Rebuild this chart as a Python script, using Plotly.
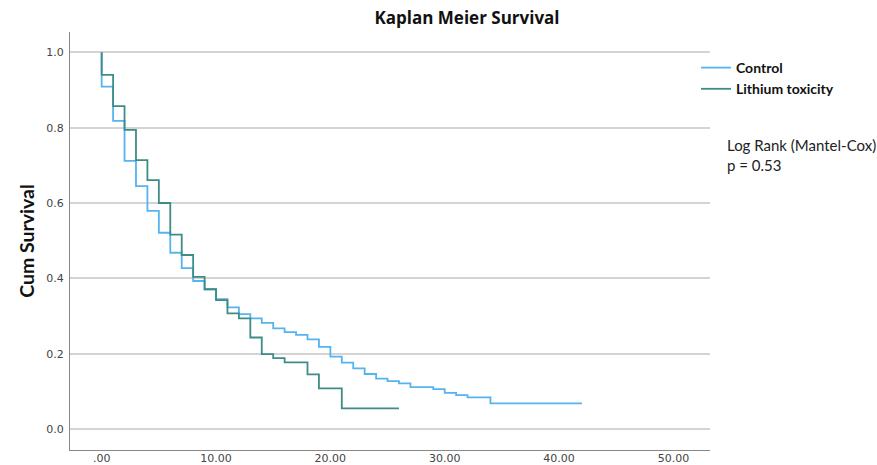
import plotly.graph_objects as go

# ---- data ----
control_times = [0, 1, 2, 3, 4, 5, 6, 7, 8, 9, 10, 11, 12, 13, 14, 15, 16, 17, 18, 19, 20,
                 21, 22, 23, 24, 25, 26, 27, 29, 30, 31, 32, 34]
control_surv = [0.909, 0.818, 0.712, 0.645, 0.579, 0.521, 0.468, 0.427, 0.393, 0.371, 0.345,
                0.323, 0.305, 0.294, 0.282, 0.267, 0.257, 0.250, 0.238, 0.218, 0.192,
                0.176, 0.161, 0.146, 0.134, 0.127, 0.121, 0.111, 0.106, 0.096, 0.090,
                0.084, 0.068]
control_end = 42

lithium_times = [0, 1, 2, 3, 4, 5, 6, 7, 8, 9, 10, 11, 12, 13, 14, 15, 16, 18, 19, 21]
lithium_surv = [0.940, 0.857, 0.794, 0.714, 0.661, 0.600, 0.516, 0.462, 0.404, 0.371, 0.342,
                0.307, 0.294, 0.243, 0.199, 0.188, 0.177, 0.145, 0.108, 0.055]
lithium_end = 26

x_tick_vals = [0, 10, 20, 30, 40, 50]
x_tick_text = [".00", "10.00", "20.00", "30.00", "40.00", "50.00"]
y_tick_vals = [0.0, 0.2, 0.4, 0.6, 0.8, 1.0]

series_names = ["Control", "Lithium toxicity"]
series_colors = ["#55b4f0", "#3e8c86"]


def km_path(times, surv, end):
    xs = [0] + list(times) + [end]
    ys = [1.0] + list(surv) + [surv[-1]]
    return xs, ys


# plot-area geometry in pixels (used to place legend / notes)
L, R, T, B = 70, 710, 32, 450
W, H = R - L, B - T


def px_x(px):
    return (px - L) / W


def px_y(py):
    return 1 - (py - T) / H


fig = go.Figure()
for (t, s, e), name, col in zip(
        [(control_times, control_surv, control_end), (lithium_times, lithium_surv, lithium_end)],
        series_names, series_colors):
    xs, ys = km_path(t, s, e)
    fig.add_trace(go.Scatter(x=xs, y=ys, mode="lines", name=name,
                             line=dict(color=col, width=1.8, shape="hv")))

fig.update_layout(
    width=877, height=465,
    margin=dict(l=L, r=877 - R, t=T, b=465 - B),
    paper_bgcolor="white", plot_bgcolor="white",
    title=dict(text="<b>Kaplan Meier Survival</b>", xref="container", x=467 / 877,
               xanchor="center", yref="container", y=1 - 18 / 465, yanchor="middle",
               font=dict(family="Open Sans", size=17, color="#111")),
    legend=dict(x=px_x(696), xanchor="left", y=px_y(52), yanchor="top",
                bgcolor="rgba(0,0,0,0)", borderwidth=0, tracegroupgap=0,
                font=dict(family="Lato", size=14, color="#111", weight="bold"),
                itemwidth=30),
    annotations=[dict(text="Log Rank (Mantel-Cox)<br>p = 0.53", xref="paper", yref="paper",
                      x=px_x(725), y=px_y(134), xanchor="left", yanchor="top",
                      align="left", showarrow=False,
                      font=dict(family="Lato", size=15, color="#222"))],
    showlegend=True,
)
fig.update_xaxes(range=[-2.77, 53.2], tickvals=x_tick_vals, ticktext=x_tick_text,
                 showgrid=False, zeroline=False, showline=True, linecolor="#888",
                 linewidth=1.2, ticks="", automargin=False, ticklabelstandoff=-2,
                 tickfont=dict(family="DejaVu Sans", size=11, color="#444"))
fig.update_yaxes(range=[-0.0557, 1.054], tickvals=y_tick_vals, tickformat=".1f",
                 showgrid=True, gridcolor="#d4d4d4", gridwidth=1.5, zeroline=False,
                 showline=True, linecolor="#888", linewidth=1.2, ticks="",
                 automargin=False, ticklabelstandoff=3,
                 tickfont=dict(family="DejaVu Sans", size=11, color="#444"),
                 title=dict(text="<b>Cum Survival</b>", standoff=6,
                            font=dict(family="Lato", size=19.5, color="#111")))

fig.write_html("out.html", config={"displayModeBar": False},
               post_script="document.body.style.margin='0';document.body.style.padding='0';")
